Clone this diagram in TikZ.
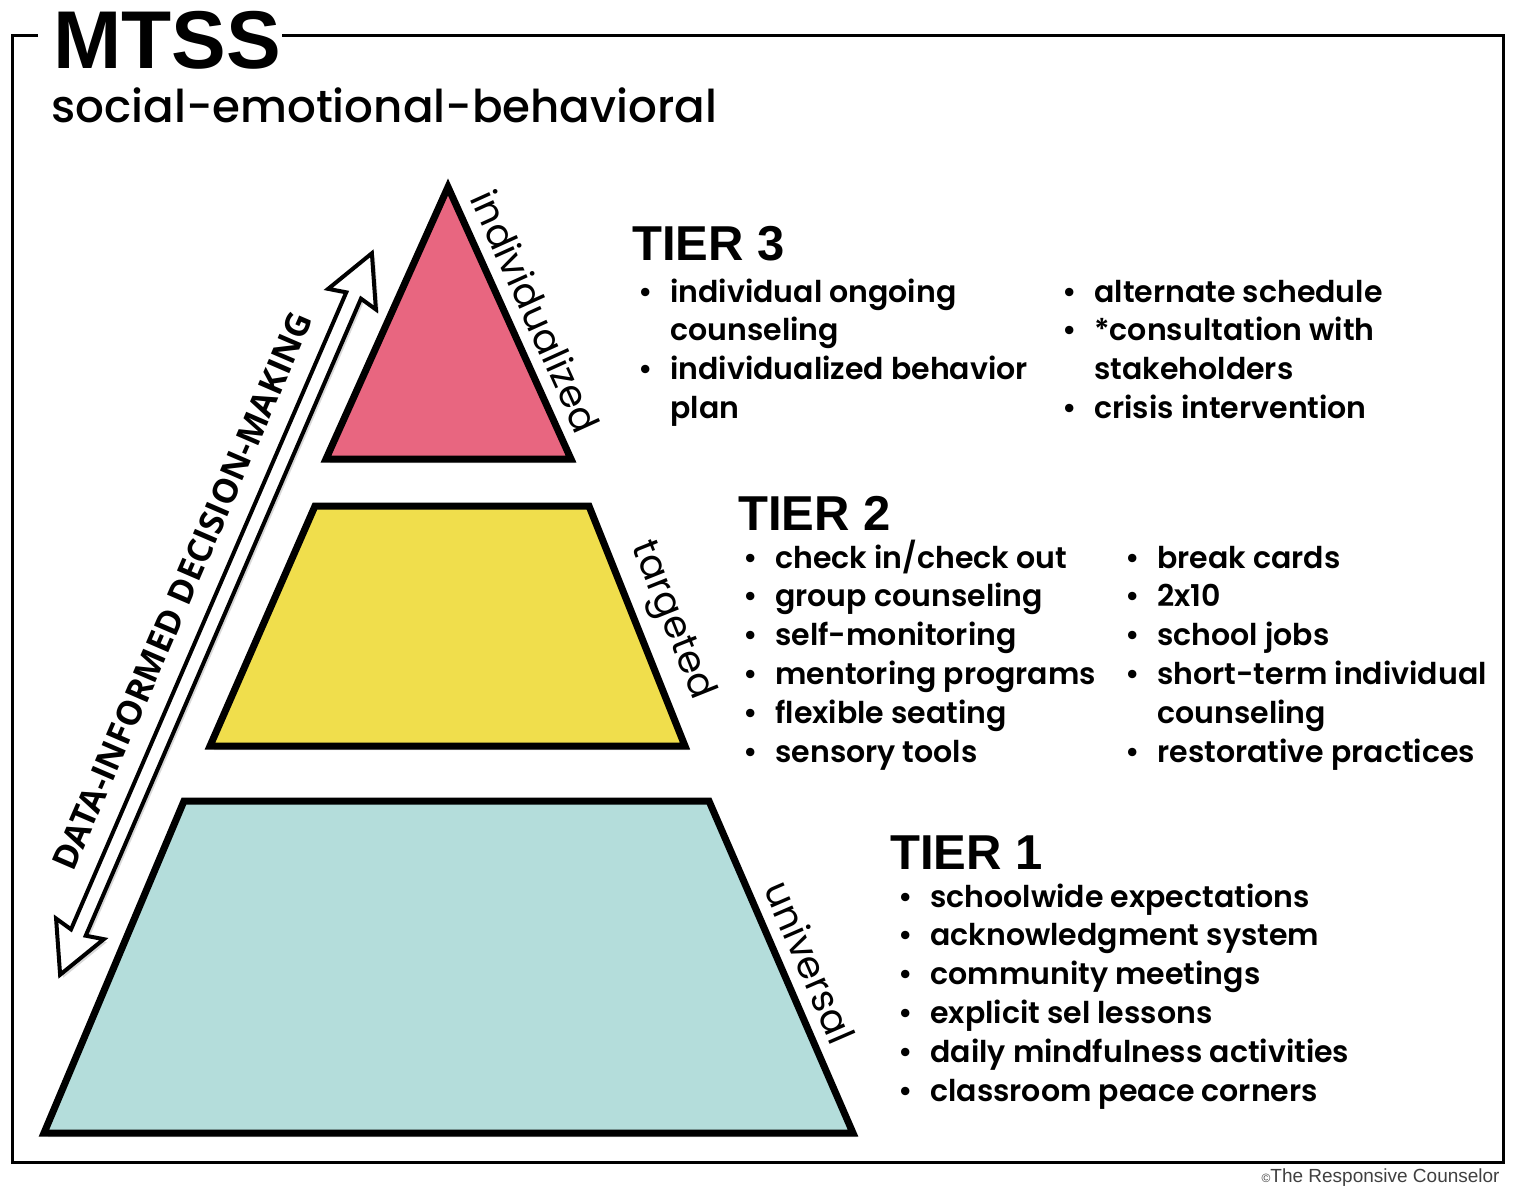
\documentclass[tikz,border=0pt]{standalone}
\usepackage{fontspec}
\setmainfont{Poppins}
\newfontfamily\bodyfont{Poppins SemiBold}
\newfontfamily\subfont{Poppins Medium}
\newfontfamily\headfont{Liberation Sans}
\newfontfamily\arrowfont{Open Sans}
\usetikzlibrary{shadows}

\definecolor{tierpink}{RGB}{232,102,128}
\definecolor{tieryellow}{RGB}{240,222,76}
\definecolor{tierteal}{RGB}{180,221,219}

\newcommand{\bl}{\textbullet &}
\newcommand{\tierlist}[1]{\begin{tabular}[t]{@{}p{16pt}@{}l@{}}#1\end{tabular}}

\begin{document}
\begin{tikzpicture}[x=0.5pt,y=-0.5pt,
    tier/.style={draw=black,line width=3.5pt,line join=miter,
      drop shadow={shadow xshift=2pt,shadow yshift=-2pt,opacity=.3}},
    side/.style={sloped,above=7pt,inner sep=0pt,font=\fontsize{19}{19}\selectfont},
    tierhead/.style={anchor=base west,inner sep=0pt,font=\headfont\bfseries\fontsize{24.5}{24.5}\selectfont},
    list/.style={anchor=base west,inner sep=0pt,font=\bodyfont\fontsize{15}{19.4}\selectfont},
    frame/.style={line width=1.5pt},
    dataarrow/.style={draw=black,fill=white,line width=2pt,line join=miter,
      drop shadow={shadow xshift=1.5pt,shadow yshift=-1.5pt,opacity=.3}}]
    \useasboundingbox[fill=white] (0,0) rectangle (1514,1194);

    % frame and title
    \node[anchor=base west,inner sep=0pt,font=\headfont\bfseries\fontsize{41}{41}\selectfont] (title) at (53,68) {MTSS};
    \node[anchor=base west,inner sep=0pt,font=\subfont\fontsize{22.6}{22.6}\selectfont] (subtitle) at (51,122) {social-emotional-behavioral};
    \draw[frame] (38,35) -- (12,35) -- (12,1162) -- (1503,1162) -- (1503,35) -- (282,35);

    % pyramid
    \coordinate (t3top) at (448,187);
    \coordinate (t3left) at (326,459);
    \coordinate (t3right) at (571,459);
    \coordinate (t2tl) at (315,506);
    \coordinate (t2tr) at (589,506);
    \coordinate (t2br) at (685,746);
    \coordinate (t2bl) at (210,746);
    \coordinate (t1tl) at (184,801);
    \coordinate (t1tr) at (709,801);
    \coordinate (t1br) at (853,1133);
    \coordinate (t1bl) at (44,1133);
    \draw[tier,fill=tierpink] (t3top) -- (t3right) -- (t3left) -- cycle;
    \draw[tier,fill=tieryellow] (t2tl) -- (t2tr) -- (t2br) -- (t2bl) -- cycle;
    \draw[tier,fill=tierteal] (t1tl) -- (t1tr) -- (t1br) -- (t1bl) -- cycle;
    \path (t3top) -- node[side,pos=.5] (lbl3) {individualized} (t3right);
    \path (t2tr) -- node[side,pos=.53] (lbl2) {targeted} (t2br);
    \path (t1tr) -- node[side,pos=.52] (lbl1) {universal} (t1br);

    % data arrow
    \begin{scope}[shift={(216,614)},rotate=66.63]
      \draw[dataarrow] (393,0) -- (343,26) -- (347,8) -- (-347,8) -- (-343,26)
        -- (-393,0) -- (-343,-26) -- (-347,-8) -- (347,-8) -- (343,-26) -- cycle;
      \node[rotate=66.63,inner sep=0pt,font=\arrowfont\bfseries\fontsize{17}{17}\selectfont] (datalbl) at (8,-40) {DATA-INFORMED DECISION-MAKING};
    \end{scope}

    % tier 3
    \node[tierhead] (head3) at (632,260) {TIER 3};
    \node[list] (t3a) at (638,302) {\tierlist{\bl individual ongoing\\ & counseling\\ \bl individualized behavior\\ & plan}};
    \node[list] (t3b) at (1062,302) {\tierlist{\bl alternate schedule\\ \bl *consultation with\\ & stakeholders\\ \bl crisis intervention}};

    % tier 2
    \node[tierhead] (head2) at (738,530) {TIER 2};
    \node[list] (t2a) at (743,568) {\tierlist{\bl check in/check out\\ \bl group counseling\\ \bl self-monitoring\\ \bl mentoring programs\\ \bl flexible seating\\ \bl sensory tools}};
    \node[list] (t2b) at (1125,568) {\tierlist{\bl break cards\\ \bl 2x10\\ \bl school jobs\\ \bl short-term individual\\ & counseling\\ \bl restorative practices}};

    % tier 1
    \node[tierhead] (head1) at (890,869) {TIER 1};
    \node[list] (t1a) at (898,907) {\tierlist{\bl schoolwide expectations\\ \bl acknowledgment system\\ \bl community meetings\\ \bl explicit sel lessons\\ \bl daily mindfulness activities\\ \bl classroom peace corners}};

    \node[anchor=base east,inner sep=0pt,text=black!75,font=\headfont\fontsize{9.5}{10}\selectfont] (credit) at (1500,1182) {{\fontsize{6}{6}\selectfont\textcopyright}The Responsive Counselor};
\end{tikzpicture}
\end{document}
